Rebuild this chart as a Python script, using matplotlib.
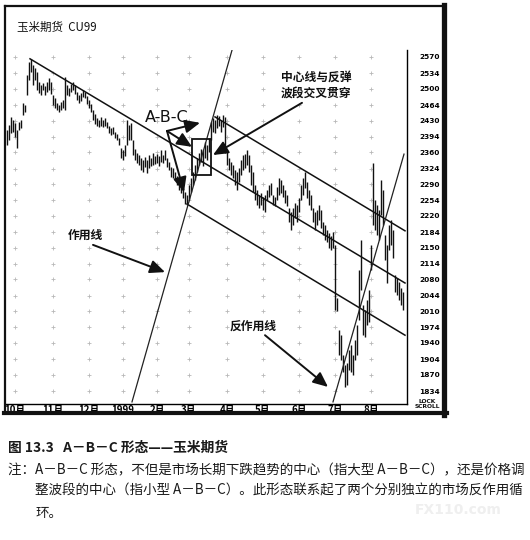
import matplotlib.pyplot as plt
from matplotlib.patches import Rectangle
from matplotlib.lines import Line2D

plt.rcParams['font.family'] = ['Noto Sans CJK SC', 'DejaVu Sans']

# daily bars of CU99 corn futures, Oct 1998 - Aug 1999 (bar index = trading day)
highs = [2409, 2420, 2438, 2431, 2425, 2409, 2427, 2431, 2468, 2464,
         2530, 2559, 2566, 2552, 2546, 2537, 2515, 2508, 2512, 2506,
         2515, 2524, 2515, 2486, 2479, 2468, 2464, 2471, 2475, 2526,
         2508, 2501, 2510, 2515, 2508, 2493, 2486, 2490, 2497, 2493,
         2484, 2475, 2466, 2453, 2444, 2435, 2431, 2438, 2431, 2435,
         2427, 2418, 2413, 2416, 2405, 2400, 2392, 2370, 2365, 2376,
         2431, 2420, 2425, 2387, 2367, 2359, 2354, 2348, 2343, 2350,
         2343, 2354, 2348, 2359, 2352, 2356, 2352, 2365, 2354, 2365,
         2348, 2339, 2328, 2326, 2317, 2308, 2299, 2295, 2282, 2273,
         2266, 2288, 2304, 2317, 2332, 2348, 2359, 2367, 2365, 2383,
         2376, 2392, 2427, 2435, 2431, 2442, 2440, 2431, 2442, 2438,
         2365, 2348, 2339, 2332, 2321, 2317, 2326, 2343, 2354, 2356,
         2365, 2354, 2332, 2317, 2288, 2277, 2266, 2271, 2262, 2266,
         2277, 2288, 2293, 2266, 2262, 2284, 2304, 2299, 2288, 2277,
         2266, 2238, 2229, 2238, 2249, 2244, 2260, 2288, 2304, 2317,
         2295, 2277, 2266, 2238, 2229, 2233, 2244, 2233, 2207, 2200,
         2189, 2183, 2176, 2185, 2156, 2040, 1968, 1957, 1913, 1891,
         1895, 1924, 1935, 1913, 1946, 1979, 2101, 2167, 2024, 2013,
         2035, 2057, 2156, 2337, 2255, 2244, 2233, 2299, 2277, 2178,
         2156, 2200, 2211, 2189, 2090, 2084, 2075, 2062, 2053]
lows = [2376, 2387, 2402, 2405, 2394, 2370, 2409, 2413, 2442, 2449,
        2486, 2519, 2537, 2508, 2519, 2497, 2491, 2486, 2497, 2486,
        2493, 2497, 2488, 2464, 2457, 2453, 2449, 2453, 2457, 2453,
        2486, 2484, 2493, 2497, 2488, 2475, 2468, 2473, 2482, 2479,
        2466, 2457, 2449, 2431, 2422, 2418, 2416, 2418, 2416, 2418,
        2413, 2402, 2398, 2400, 2392, 2387, 2376, 2348, 2343, 2352,
        2376, 2387, 2387, 2354, 2343, 2337, 2332, 2321, 2317, 2328,
        2315, 2326, 2330, 2332, 2334, 2337, 2330, 2339, 2337, 2343,
        2328, 2321, 2306, 2304, 2299, 2288, 2277, 2271, 2260, 2246,
        2244, 2255, 2273, 2288, 2299, 2317, 2332, 2339, 2330, 2348,
        2343, 2361, 2387, 2405, 2402, 2413, 2418, 2405, 2416, 2359,
        2332, 2321, 2310, 2304, 2288, 2277, 2295, 2310, 2321, 2326,
        2332, 2317, 2288, 2273, 2255, 2244, 2238, 2244, 2233, 2229,
        2255, 2262, 2266, 2244, 2242, 2255, 2266, 2271, 2262, 2249,
        2242, 2207, 2189, 2200, 2216, 2207, 2229, 2255, 2266, 2282,
        2260, 2244, 2233, 2207, 2189, 2200, 2211, 2194, 2178, 2167,
        2163, 2150, 2145, 2150, 2013, 2010, 1913, 1902, 1876, 1843,
        1847, 1880, 1876, 1869, 1902, 1913, 1991, 2057, 1957, 1952,
        1979, 1986, 2101, 2200, 2189, 2178, 2167, 2222, 2200, 2123,
        2073, 2145, 2156, 2128, 2053, 2046, 2035, 2024, 2013]

month_pos = [4, 23, 41, 58, 75, 91, 110, 128, 146, 164, 182]
month_labels = ['10月', '11月', '12月', '1999', '2月', '3月', '4月', '5月', '6月', '7月', '8月']
price_ticks = [2570, 2534, 2500, 2464, 2430, 2394, 2360, 2324, 2290, 2254, 2220,
               2184, 2150, 2114, 2080, 2044, 2010, 1974, 1940, 1904, 1870, 1834]

# trend lines as (x0, p0, x1, p1)
center_line = (11.5, 2566, 199, 2072)
upper_line = (104, 2438, 199, 2187)
lower_line = (90, 2246, 199, 1957)
action_line = (62.5, 1810, 112.5, 2585)
reaction_line = (163, 1810, 198.5, 2356)
abc_box = (92.5, 2310, 102, 2389)

W, H = 530, 540


def fpx(x, y):
    return x / W, 1 - y / H


fig = plt.figure(figsize=(5.3, 5.4), dpi=100)
fig.patch.set_facecolor('white')
ax = fig.add_axes([6 / W, 1 - 404 / H, 401 / W, 354 / H])
ax.set_facecolor('white')

# grid dots
for mp in month_pos:
    ax.plot([mp] * len(price_ticks), price_ticks, ls='none', marker='+',
            ms=2.5, mew=0.6, color='#b8b8b8', zorder=1)

idx = list(range(len(highs)))
ax.vlines(idx, lows, highs, color='#111111', lw=1.0, zorder=3)

for ln in (center_line, upper_line, lower_line):
    ax.plot([ln[0], ln[2]], [ln[1], ln[3]], color='#111111', lw=1.1, zorder=4)
for ln in (action_line, reaction_line):
    ax.plot([ln[0], ln[2]], [ln[1], ln[3]], color='#222222', lw=0.9, zorder=4)

ax.add_patch(Rectangle((abc_box[0], abc_box[1]), abc_box[2] - abc_box[0],
                       abc_box[3] - abc_box[1], fill=False, ec='#111111', lw=1.3, zorder=5))

arrow = dict(arrowstyle='-|>,head_length=0.9,head_width=0.4', color='#111111',
             lw=1.4, shrinkA=0, shrinkB=0)
abc_from = (80, 2407)
for tgt in [(96.5, 2425), (92.5, 2372), (88.5, 2272)]:
    ax.annotate('', xy=tgt, xytext=abc_from, arrowprops=arrow, zorder=6)
ax.text(80, 2437, 'A-B-C', ha='center', va='center', fontsize=11.5,
        family=['DejaVu Sans'], color='#111111')

ax.annotate('', xy=(103, 2354), xytext=(147.5, 2469), arrowprops=arrow)
ax.text(154.5, 2508, '中心线与反弹\n波段交叉贯穿', ha='center', va='center',
        fontsize=8.5, fontweight='bold', linespacing=1.25, color='#111111')

ax.annotate('', xy=(79, 2096), xytext=(43, 2156), arrowprops=arrow)
ax.text(39, 2178, '作用线', ha='center', va='center', fontsize=8.5,
        fontweight='bold', color='#111111')

ax.annotate('', xy=(160.5, 1843), xytext=(129, 1957), arrowprops=arrow)
ax.text(123, 1977, '反作用线', ha='center', va='center', fontsize=8.5,
        fontweight='bold', color='#111111')

ax.set_xlim(-0.5, 200)
ax.set_ylim(1805.4, 2585.4)
ax.set_xticks(month_pos)
ax.set_xticklabels(month_labels, fontsize=7, fontweight='bold')
ax.set_yticks(price_ticks)
ax.set_yticklabels([str(p) for p in price_ticks], fontsize=5.3, fontweight='bold',
                   family=['DejaVu Sans'])
ax.yaxis.tick_right()
ax.tick_params(axis='y', length=0, pad=9)
ax.tick_params(axis='x', length=0, pad=0.5)
for s in ('top', 'left'):
    ax.spines[s].set_visible(False)
ax.spines['right'].set_linewidth(1.0)
ax.spines['bottom'].set_linewidth(1.0)

# outer frame of the screenshot
frame = [((5, 6), (445, 6), 1.6), ((5, 6), (5, 413), 1.6),
         ((444, 5), (444, 415), 3.8), ((4, 412.5), (447, 412.5), 3.0)]
for a, b, w in frame:
    p0, p1 = fpx(*a), fpx(*b)
    fig.add_artist(Line2D([p0[0], p1[0]], [p0[1], p1[1]], color='#111111', lw=w,
                          transform=fig.transFigure))

fig.text(*fpx(17, 27), '玉米期货  CU99', fontsize=8.3, va='center', ha='left', color='#111111')
fig.text(*fpx(427, 404), 'LOCK\nSCROLL', fontsize=4.3, fontweight='bold', ha='center',
         va='center', linespacing=0.9, family=['DejaVu Sans'], color='#111111')

# caption
fig.text(*fpx(8, 448), '图 13.3   A－B－C 形态——玉米期货', fontsize=9.9, fontweight='bold',
         va='center', ha='left', color='#1a1a1a')
fig.text(*fpx(8, 470), '注：A－B－C 形态，不但是市场长期下跌趋势的中心（指大型 A－B－C），还是价格调',
         fontsize=9.75, va='center', ha='left', color='#1a1a1a')
fig.text(*fpx(35, 491), '整波段的中心（指小型 A－B－C）。此形态联系起了两个分别独立的市场反作用循',
         fontsize=9.75, va='center', ha='left', color='#1a1a1a')
fig.text(*fpx(35, 513), '环。', fontsize=9.75, va='center', ha='left', color='#1a1a1a')
fig.text(*fpx(458, 510), 'FX110.com', fontsize=10, fontweight='bold', va='center',
         ha='center', color='#efefef', family=['DejaVu Sans'], zorder=0)

fig.savefig('out.png', dpi=100, facecolor='white')
